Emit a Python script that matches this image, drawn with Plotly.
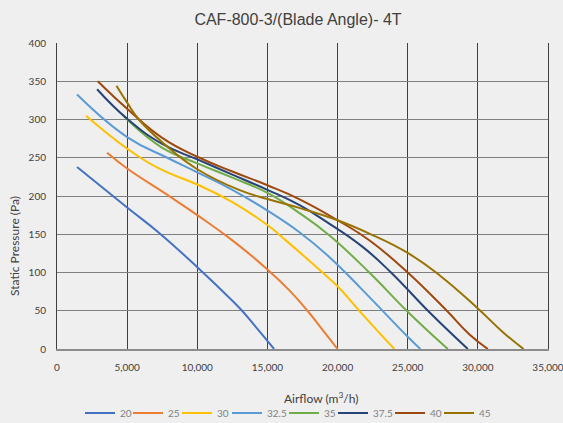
import plotly.graph_objects as go

# Blade angle series: airflow (m3/h) and static pressure (Pa)
x20 = [1429, 5000, 7262, 10000, 11548, 13095, 14167, 15476]
p20 = [238, 185, 152, 107, 80, 52, 29, 0]

x25 = [3571, 5000, 7738, 10000, 12500, 15000, 16548, 17857, 18929, 20000]
p25 = [256.5, 236, 203, 175, 142, 104, 77, 50, 25, 0]

x30 = [2071, 5000, 7262, 10000, 12500, 15000, 16310, 18929, 20000, 21548, 22976, 24048]
p30 = [305, 262, 236, 215, 192, 162, 142, 100, 82, 50, 21, 0]

x325 = [1429, 5000, 7857, 10000, 12500, 15000, 17262, 19405, 21786, 25000, 25905]
p325 = [332.6, 277, 250, 231, 208, 181, 153, 120.4, 77, 16, 0]

x35 = [4643, 5000, 7500, 10000, 12500, 15000, 17262, 19405, 22262, 25000, 27857]
p35 = [307, 300, 263, 242.6, 224, 204, 178, 148.7, 100, 48.7, 0]

x375 = [2857, 5000, 7500, 10000, 12500, 15000, 17262, 19405, 21786, 23810, 26548, 29286]
p375 = [339.6, 301, 268, 247.8, 228, 208, 188.3, 164, 133.5, 100, 48, 0]

x40 = [2905, 5000, 7500, 10000, 12500, 15000, 17262, 20000, 22262, 25000, 27738, 29405, 30714]
p40 = [350, 314, 276, 251.3, 232, 214, 196, 168.3, 142.2, 100, 50.9, 19, 0]

x45 = [4238, 5000, 5833, 7738, 10000, 12976, 15000, 17262, 20000, 22262, 25000, 27262, 30000, 31786, 33262]
p45 = [344, 322, 300, 266.5, 235, 208, 196, 184.5, 168.3, 150.9, 125.6, 96.5, 53, 22, 0]

names = ["20", "25", "30", "32.5", "35", "37.5", "40", "45"]
xs = [x20, x25, x30, x325, x35, x375, x40, x45]
ps = [p20, p25, p30, p325, p35, p375, p40, p45]
colors = ["#4472C4", "#ED7D31", "#FFC000", "#5B9BD5", "#70AD47", "#264478", "#9E480E", "#997300"]
legend_widths = [3, 4, 5, 12, 4, 12, 4, 12]

x_ticks = [0, 5000, 10000, 15000, 20000, 25000, 30000, 35000]
x_ticktext = ["0", "5,000", "10,000", "15,000", "20,000", "25,000", "30,000", "35,000"]
y_ticks = [0, 50, 100, 150, 200, 250, 300, 350, 400]

fig = go.Figure()
for n, x, p, c, lw in zip(names, xs, ps, colors, legend_widths):
    fig.add_trace(go.Scatter(x=x, y=p, name=n, mode="lines", legendwidth=lw,
                             line=dict(color=c, width=2, shape="spline", smoothing=1.3)))

bg = "#efefef"
W, H = 563, 423
L, R, T, B = 57, 548, 43, 349
PW, PH = R - L, B - T
fig.update_layout(
    width=W, height=H,
    paper_bgcolor=bg, plot_bgcolor=bg,
    margin=dict(l=L, r=W - R, t=T, b=H - B, autoexpand=False),
    title=dict(text="CAF-800-3/(Blade Angle)- 4T", x=298 / W, xanchor="center",
               y=1 - 19 / H, yanchor="middle",
               font=dict(family="Liberation Sans, Arial", size=16, color="#404040")),
    font=dict(family="Lato, Open Sans, sans-serif", size=10, color="#404040"),
    showlegend=True,
    legend=dict(orientation="h", xref="container", yref="container",
                x=288 / W, xanchor="center", y=1 - 413 / H, yanchor="middle",
                font=dict(size=10, color="#7f7f7f"), bgcolor="rgba(0,0,0,0)",
                itemwidth=30, traceorder="normal"),
    annotations=[
        dict(text="Airflow (m<sup>3</sup>/h)", x=(321 - L) / PW, y=(B - 398) / PH,
             xref="paper", yref="paper", showarrow=False, xanchor="center", yanchor="middle",
             font=dict(family="Lato, Open Sans, sans-serif", size=12, color="#404040")),
        dict(text="Static Pressure (Pa)", x=(14 - L) / PW, y=(B - 246) / PH, textangle=-90,
             xref="paper", yref="paper", showarrow=False, xanchor="center", yanchor="middle",
             font=dict(family="Lato, Open Sans, sans-serif", size=12, color="#404040")),
    ],
)
fig.update_xaxes(range=[0, 35000], tickvals=x_ticks, ticktext=x_ticktext, automargin=False,
                 showgrid=True, gridcolor="#404040", gridwidth=1,
                 showline=True, linecolor="#8c8c8c", linewidth=1.5, mirror=False,
                 zeroline=False, ticks="", ticklabelstandoff=8, ticklabeloverflow="allow",
                 tickfont=dict(size=10, color="#404040"))
fig.update_yaxes(range=[0, 400], tickvals=y_ticks, automargin=False,
                 showgrid=True, gridcolor="#7f7f7f", gridwidth=1,
                 showline=True, linecolor="#404040", linewidth=1, mirror=True,
                 zeroline=False, ticks="", ticklabelstandoff=8, ticklabeloverflow="allow",
                 tickfont=dict(size=10, color="#404040"))

fig.write_html("out.html", config={"displayModeBar": False},
               post_script="document.body.style.margin='0';document.body.style.overflow='hidden';"
                           "document.body.style.background='#efefef';")
